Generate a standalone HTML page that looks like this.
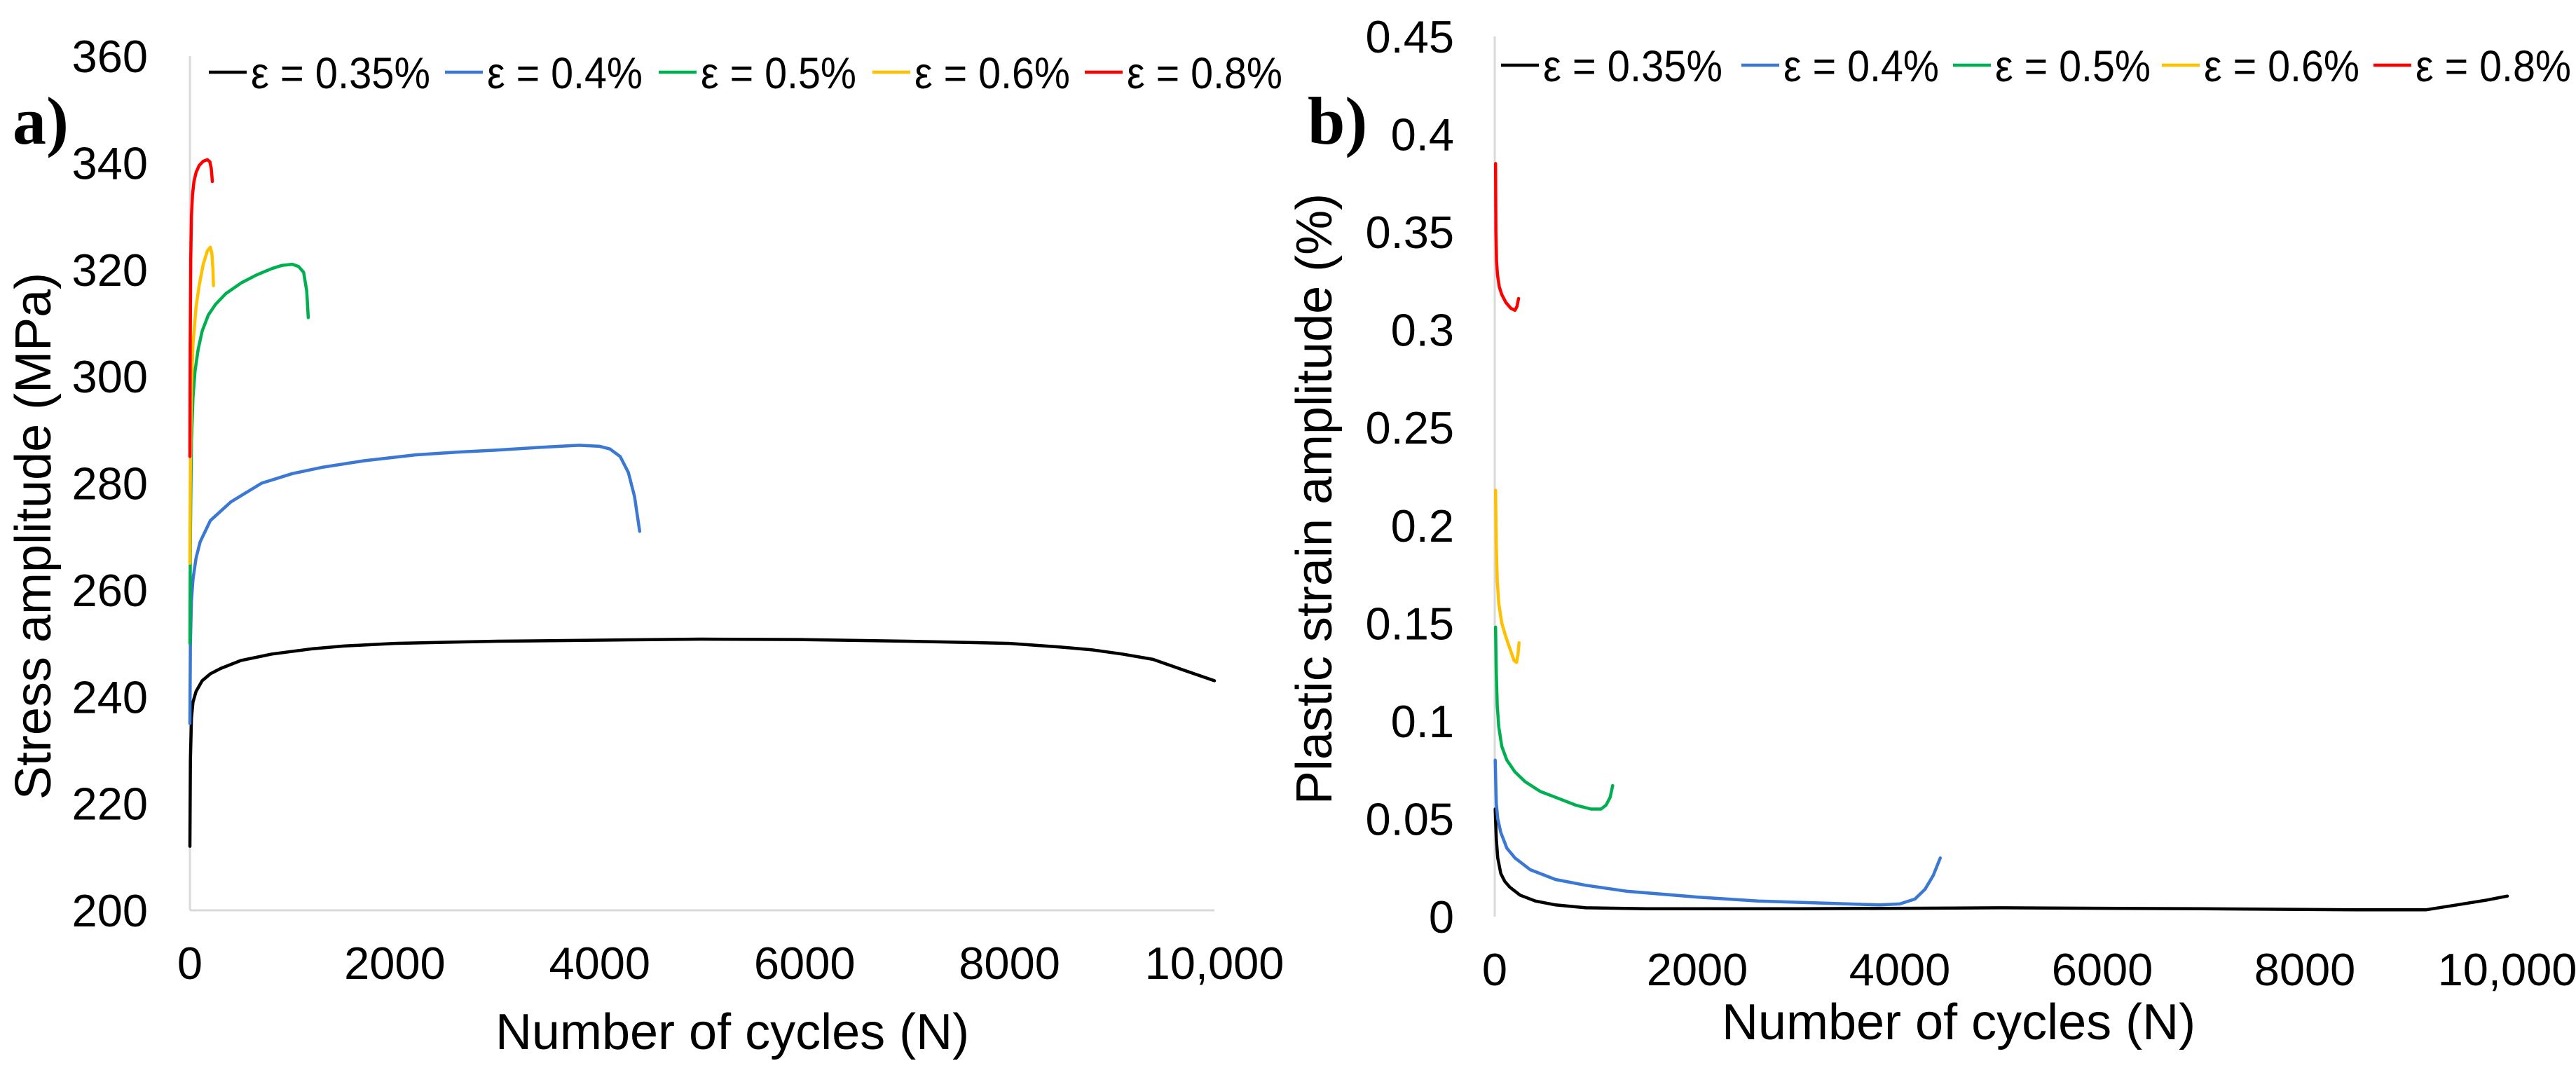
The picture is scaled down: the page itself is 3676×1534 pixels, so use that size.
<!DOCTYPE html>
<html><head><meta charset="utf-8">
<style>
html,body{margin:0;padding:0;background:#fff;}
svg{display:block;font-family:"Liberation Sans",Arial,sans-serif;}
</style></head>
<body>
<svg id="fig" width="3676" height="1534" viewBox="0 0 3676 1534" xmlns="http://www.w3.org/2000/svg">
  <rect x="0" y="0" width="3676" height="1534" fill="#fff"/>
  <text x="18" y="205" font-family="Liberation Serif, serif" font-weight="bold" font-size="96">a)</text>
  <text x="1866" y="205" font-family="Liberation Serif, serif" font-weight="bold" font-size="96">b)</text>
  <g id="chartA"></g>
  <g id="chartB"></g>
</svg>
<script>
// ---------- Data ----------
const legendLabels = ["ε = 0.35%", "ε = 0.4%", "ε = 0.5%", "ε = 0.6%", "ε = 0.8%"];
const seriesColors = ["#000000", "#3a78d4", "#00b050", "#ffc000", "#ff0000"];

const xTicks = [0, 2000, 4000, 6000, 8000, 10000];
const xTickLabels = ["0", "2000", "4000", "6000", "8000", "10,000"];

const aYTicks = [200, 220, 240, 260, 280, 300, 320, 340, 360];
const bYTicks = [0, 0.05, 0.1, 0.15, 0.2, 0.25, 0.3, 0.35, 0.4, 0.45];
const bYTickLabels = ["0", "0.05", "0.1", "0.15", "0.2", "0.25", "0.3", "0.35", "0.4", "0.45"];

// Panel a: stress amplitude (MPa) vs cycles
const a035x = [0, 5, 15, 30, 60, 120, 200, 300, 500, 800, 1200, 1500, 2000, 2500, 3000, 4000, 5000, 6000, 7000, 7500, 8000, 8500, 8800, 9100, 9400, 9700, 10000];
const a035y = [212, 228, 236, 239, 241, 243, 244.3, 245.3, 246.8, 248, 249, 249.5, 250, 250.2, 250.4, 250.6, 250.8, 250.7, 250.4, 250.2, 250, 249.3, 248.8, 248, 247, 245, 243];
const a04x = [0, 5, 15, 30, 60, 100, 200, 400, 700, 1000, 1300, 1700, 2200, 2600, 3000, 3400, 3800, 4000, 4100, 4200, 4280, 4340, 4390];
const a04y = [235, 250, 258, 262, 266, 269, 273, 276.5, 280, 281.8, 283, 284.2, 285.3, 285.8, 286.2, 286.7, 287.1, 286.9, 286.4, 285, 282, 277.5, 271];
const a05x = [0, 5, 15, 30, 50, 80, 120, 180, 250, 350, 500, 650, 800, 900, 1000, 1060, 1110, 1140, 1155];
const a05y = [250, 270, 288, 296, 301, 305, 308.5, 311.5, 313.5, 315.5, 317.5, 319, 320.2, 320.8, 321, 320.6, 319.5, 316, 311];
const a06x = [0, 5, 15, 30, 60, 90, 130, 170, 200, 215, 225, 230];
const a06y = [265, 283, 298, 306, 313, 317, 321, 323.5, 324.2, 323, 320, 317];
const a08x = [0, 3, 8, 15, 25, 40, 60, 90, 130, 170, 195, 208, 215, 219];
const a08y = [285, 305, 322, 330, 334, 336.5, 338.2, 339.5, 340.3, 340.6, 340.2, 339, 337.5, 336.5];

// Panel b: plastic strain amplitude (%) vs cycles
const b035x = [5, 15, 30, 60, 100, 150, 250, 400, 600, 900, 1500, 3000, 5000, 7000, 8500, 9200, 9500, 9800, 10000];
const b035y = [0.055, 0.04, 0.03, 0.022, 0.018, 0.015, 0.011, 0.008, 0.006, 0.0045, 0.004, 0.004, 0.0045, 0.004, 0.0035, 0.0035, 0.006, 0.0085, 0.0105];
const b04x = [5, 15, 30, 60, 120, 200, 350, 600, 900, 1300, 2000, 2600, 3200, 3800, 4000, 4150, 4250, 4330, 4400];
const b04y = [0.08, 0.058, 0.05, 0.043, 0.035, 0.03, 0.024, 0.019, 0.016, 0.013, 0.01, 0.008, 0.007, 0.006, 0.0065, 0.009, 0.014, 0.021, 0.03];
const b05x = [8, 15, 25, 40, 70, 120, 200, 300, 450, 600, 800, 950, 1050, 1100, 1140, 1165];
const b05y = [0.148, 0.125, 0.108, 0.097, 0.087, 0.08, 0.074, 0.069, 0.064, 0.061, 0.057, 0.055, 0.055, 0.057, 0.061, 0.067];
const b06x = [8, 15, 25, 40, 70, 110, 150, 190, 215, 230, 240];
const b06y = [0.218, 0.19, 0.172, 0.16, 0.15, 0.143, 0.137, 0.131, 0.13, 0.134, 0.14];
const b08x = [8, 12, 18, 28, 45, 70, 110, 160, 200, 220, 235];
const b08y = [0.385, 0.35, 0.335, 0.328, 0.322, 0.318, 0.314, 0.311, 0.31, 0.312, 0.316];

// ---------- Drawing ----------
const NS = "http://www.w3.org/2000/svg";
function mk(tag, attrs, parent) {
  const e = document.createElementNS(NS, tag);
  for (const k in attrs) e.setAttribute(k, attrs[k]);
  parent.appendChild(e);
  return e;
}

function drawChart(g, cfg) {
  const sx = v => cfg.x0 + (v - 0) / 10000 * (cfg.x1 - cfg.x0);
  const sy = v => cfg.y0 + (v - cfg.ymin) / (cfg.ymax - cfg.ymin) * (cfg.y1 - cfg.y0);

  const yAxis = mk("line", {x1: cfg.x0, y1: sy(cfg.ymin), x2: cfg.x0, y2: sy(cfg.ymax), stroke: "#d9d9d9", "stroke-width": 3}, g);
  
  
  if (cfg.xAxisLine) {
    const xAxis = mk("line", {x1: cfg.x0, y1: cfg.y0, x2: cfg.x1, y2: cfg.y0, stroke: "#d9d9d9", "stroke-width": 3}, g);
    
    
  }

  cfg.yTicks.forEach((v, i) => {
    const t = mk("text", {x: cfg.x0 - cfg.yLabelGap, y: sy(v) + 23, "text-anchor": "end", "font-size": 65, fill: "#000"}, g);
    t.textContent = cfg.yTickLabels[i];
    
    
  });
  xTicks.forEach((v, i) => {
    const t = mk("text", {x: sx(v), y: cfg.xLabelY, "text-anchor": "middle", "font-size": 65, fill: "#000"}, g);
    t.textContent = xTickLabels[i];
    
    
  });

  const xt = mk("text", {x: cfg.xTitleX, y: cfg.xTitleY, "text-anchor": "middle", "font-size": 72, fill: "#000"}, g);
  xt.textContent = "Number of cycles (N)";
  
  

  const yt = mk("text", {x: 0, y: 0, "text-anchor": "middle", "font-size": 72, fill: "#000", transform: `translate(${cfg.yTitleX},${cfg.yTitleY}) rotate(-90)`}, g);
  yt.textContent = cfg.yTitle;
  
  

  cfg.series.forEach((s, i) => {
    const d = s[0].map((xv, j) => (j ? "L" : "M") + sx(xv).toFixed(1) + "," + sy(s[1][j]).toFixed(1)).join(" ");
    const p = mk("path", {d: d, fill: "none", stroke: seriesColors[i], "stroke-width": 4.5, "stroke-linejoin": "round", "stroke-linecap": "round"}, g);
    
    
  });

  legendLabels.forEach((lab, i) => {
    const lx = cfg.legendX[i];
    const ln = mk("line", {x1: lx, y1: cfg.legendY, x2: lx + 54, y2: cfg.legendY, stroke: seriesColors[i], "stroke-width": 4.5}, g);
    
    
    const t = mk("text", {x: lx + 60, y: cfg.legendY + 23, "font-size": 63, fill: "#000", textLength: (i === 0 ? 256 : 222), lengthAdjust: "spacingAndGlyphs"}, g);
    t.textContent = lab;
    
    
  });
}

drawChart(document.getElementById("chartA"), {
  x0: 271, x1: 1733, y0: 1299, y1: 80, ymin: 200, ymax: 360,
  yTicks: aYTicks, yTickLabels: aYTicks.map(String), yLabelGap: 60,
  xLabelY: 1397, xTitleX: 1045, xTitleY: 1497, xAxisLine: true,
  yTitle: "Stress amplitude (MPa)", yTitleX: 72, yTitleY: 765,
  legendX: [298, 635, 940, 1245, 1548], legendY: 103,
  series: [[a035x, a035y], [a04x, a04y], [a05x, a05y], [a06x, a06y], [a08x, a08y]]
});

drawChart(document.getElementById("chartB"), {
  x0: 2133, x1: 3578, y0: 1308, y1: 52, ymin: 0, ymax: 0.45,
  yTicks: bYTicks, yTickLabels: bYTickLabels, yLabelGap: 58,
  xLabelY: 1406, xTitleX: 2795, xTitleY: 1483, xAxisLine: false,
  yTitle: "Plastic strain amplitude (%)", yTitleX: 1900, yTitleY: 712,
  legendX: [2142, 2485, 2787, 3085, 3387], legendY: 93,
  series: [[b035x, b035y], [b04x, b04y], [b05x, b05y], [b06x, b06y], [b08x, b08y]]
});
</script>
</body></html>
